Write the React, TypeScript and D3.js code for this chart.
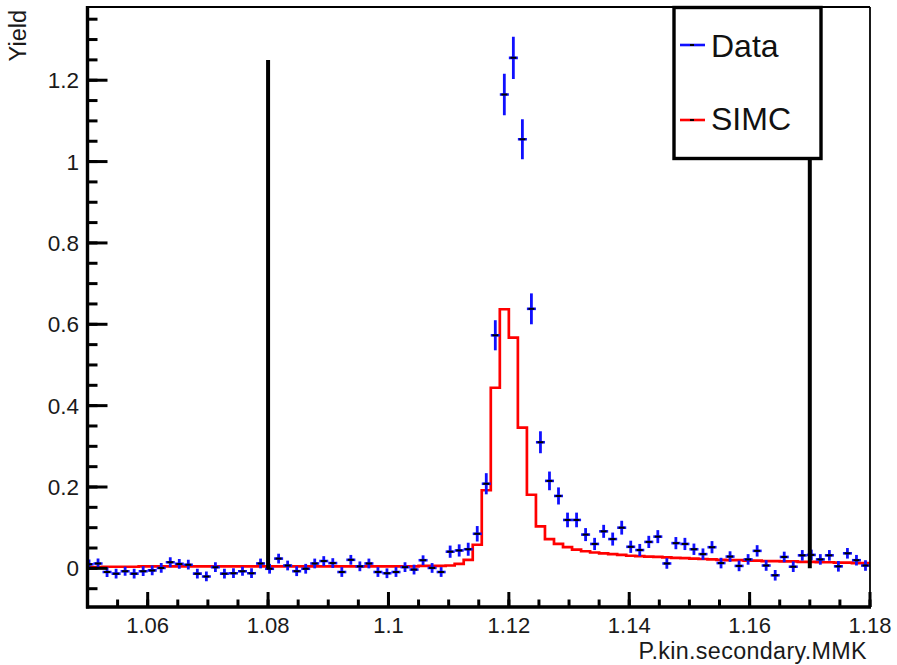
import React from "react";
import * as d3 from "d3";

// Histogram binning (bins of 0.0015 starting at 1.0; visible bins 33..119)
const BIN_WIDTH = 0.0015;
const FIRST_BIN_LOW = 1.0495;

const dataValues = [
  0.010, 0.012, -0.009, -0.013, -0.007, -0.013, -0.007, -0.005, 0.001, 0.015,
  0.011, 0.009, -0.013, -0.020, 0.003, -0.013, -0.012, -0.007, -0.012, 0.012,
  -0.001, 0.024, 0.007, -0.007, -0.001, 0.012, 0.018, 0.013, -0.009, 0.021,
  0.005, 0.012, -0.009, -0.012, -0.009, 0.003, -0.003, 0.020, 0.001, -0.009,
  0.041, 0.044, 0.047, 0.085, 0.208, 0.573, 1.165, 1.255, 1.055, 0.638,
  0.310, 0.215, 0.178, 0.119, 0.119, 0.083, 0.060, 0.091, 0.072, 0.100,
  0.053, 0.045, 0.065, 0.078, 0.012, 0.062, 0.060, 0.047, 0.035, 0.052,
  0.013, 0.029, 0.006, 0.022, 0.043, 0.007, -0.017, 0.028, 0.004, 0.032,
  0.033, 0.022, 0.032, 0.005, 0.037, 0.020, 0.007,
];

const dataErrors = [
  0.012, 0.012, 0.012, 0.012, 0.011, 0.012, 0.012, 0.012, 0.012, 0.012,
  0.012, 0.012, 0.012, 0.012, 0.012, 0.012, 0.012, 0.011, 0.012, 0.012,
  0.012, 0.012, 0.012, 0.012, 0.012, 0.012, 0.012, 0.012, 0.012, 0.012,
  0.012, 0.012, 0.012, 0.012, 0.012, 0.012, 0.012, 0.012, 0.012, 0.012,
  0.015, 0.015, 0.016, 0.019, 0.026, 0.037, 0.051, 0.052, 0.049, 0.038,
  0.027, 0.023, 0.021, 0.018, 0.018, 0.016, 0.015, 0.016, 0.016, 0.017,
  0.015, 0.015, 0.015, 0.016, 0.013, 0.015, 0.015, 0.014, 0.014, 0.015,
  0.013, 0.013, 0.013, 0.013, 0.014, 0.013, 0.013, 0.013, 0.013, 0.013,
  0.013, 0.013, 0.013, 0.013, 0.013, 0.013, 0.013,
];

const simcValues = [
  0.003, 0.003, 0.004, 0.004, 0.004, 0.004, 0.005, 0.005, 0.005, 0.005,
  0.005, 0.005, 0.005, 0.005, 0.005, 0.005, 0.005, 0.005, 0.005, 0.005,
  0.005, 0.005, 0.005, 0.005, 0.005, 0.005, 0.005, 0.005, 0.005, 0.005,
  0.005, 0.005, 0.005, 0.005, 0.005, 0.005, 0.005, 0.006, 0.006, 0.006,
  0.007, 0.011, 0.021, 0.058, 0.192, 0.444, 0.637, 0.567, 0.346, 0.181,
  0.103, 0.072, 0.060, 0.052, 0.046, 0.042, 0.039, 0.037, 0.035, 0.033,
  0.031, 0.030, 0.029, 0.028, 0.027, 0.026, 0.025, 0.024, 0.023, 0.022,
  0.021, 0.020, 0.020, 0.019, 0.019, 0.018, 0.018, 0.017, 0.017, 0.016,
  0.016, 0.015, 0.015, 0.014, 0.014, 0.013, 0.013,
];

const cutLines = [1.08, 1.17];
const cutLineTop = 1.25;

const xTicks = [1.06, 1.08, 1.1, 1.12, 1.14, 1.16, 1.18];
const xTickLabels = ["1.06", "1.08", "1.1", "1.12", "1.14", "1.16", "1.18"];
const yTicks = [0, 0.2, 0.4, 0.6, 0.8, 1.0, 1.2];
const yTickLabels = ["0", "0.2", "0.4", "0.6", "0.8", "1", "1.2"];

const xTitle = "P.kin.secondary.MMK";
const yTitle = "Yield";
const legendLabels = ["Data", "SIMC"];

const W = 897;
const H = 665;
const FONT = "'Liberation Sans', Arial, Helvetica, sans-serif";

export default function App() {
  const left = 87.5, right = 870, top = 7, bottom = 607;
  const x = d3.scaleLinear().domain([1.05, 1.18]).range([left, right]);
  const y = d3.scaleLinear().domain([-0.095, 1.38]).range([bottom, top]);

  const bins = dataValues.map((v, i) => {
    const lo = FIRST_BIN_LOW + i * BIN_WIDTH;
    return { lo, hi: lo + BIN_WIDTH, c: lo + BIN_WIDTH / 2, v, e: dataErrors[i] };
  });

  const histPts: [number, number][] = simcValues.map((v, i) => [FIRST_BIN_LOW + i * BIN_WIDTH, v]);
  histPts.push([FIRST_BIN_LOW + simcValues.length * BIN_WIDTH, simcValues[simcValues.length - 1]]);
  const histPath = d3
    .line<[number, number]>()
    .x((d) => x(d[0]))
    .y((d) => y(d[1]))
    .curve(d3.curveStepAfter)(histPts) as string;

  const xMinor = d3.range(0, 27).map((i) => 1.05 + i * 0.005);
  const yMinor = d3.range(-1, 28).map((i) => i * 0.05);

  const tickW = 3;
  const textFill = "#1a1a1a";

  return (
    <svg
      width={W}
      height={H}
      style={{ position: "absolute", left: 0, top: 0, background: "#fff" }}
      fontFamily={FONT}
    >
      <defs>
        <clipPath id="frame">
          <rect x={left} y={top} width={right - left} height={bottom - top} />
        </clipPath>
      </defs>
      <rect x={0} y={0} width={W} height={H} fill="#fff" />

      <g clipPath="url(#frame)">
        <path d={histPath} fill="none" stroke="#ff0000" strokeWidth={2.7} />
        {bins.map((b, i) => (
          <g key={i}>
            <line x1={x(b.lo)} x2={x(b.hi)} y1={y(b.v)} y2={y(b.v)} stroke="#1010ff" strokeWidth={2.6} />
            <line x1={x(b.c)} x2={x(b.c)} y1={y(b.v - b.e)} y2={y(b.v + b.e)} stroke="#1010ff" strokeWidth={2.8} />
            <line x1={x(b.c) - 3} x2={x(b.c) + 3} y1={y(b.v)} y2={y(b.v)} stroke="#000" strokeWidth={2} />
          </g>
        ))}
        {cutLines.map((c) => (
          <line key={c} x1={x(c)} x2={x(c)} y1={y(0)} y2={y(cutLineTop)} stroke="#000" strokeWidth={4} />
        ))}
      </g>

      {/* frame */}
      <line x1={left} x2={right} y1={top} y2={top} stroke="#000" strokeWidth={2.2} />
      <line x1={right} x2={right} y1={top} y2={bottom} stroke="#000" strokeWidth={1.8} />
      <line x1={left} x2={left} y1={top - 1} y2={bottom + 1.5} stroke="#000" strokeWidth={3.4} />
      <line x1={left - 1.5} x2={right + 1} y1={bottom} y2={bottom} stroke="#000" strokeWidth={3.4} />

      {/* y ticks */}
      {yMinor.map((v, i) => (
        <line key={"ym" + i} x1={left} x2={left + 10} y1={y(v)} y2={y(v)} stroke="#000" strokeWidth={tickW} />
      ))}
      {yTicks.map((v, i) => (
        <g key={"yt" + i}>
          <line x1={left} x2={left + 20} y1={y(v)} y2={y(v)} stroke="#000" strokeWidth={tickW} />
          <text x={79} y={y(v)} dy="0.36em" textAnchor="end" fontSize={22.5} fill={textFill}>
            {yTickLabels[i]}
          </text>
        </g>
      ))}

      {/* x ticks */}
      {xMinor.map((v, i) => (
        <line key={"xm" + i} x1={x(v)} x2={x(v)} y1={bottom} y2={bottom - 7.5} stroke="#000" strokeWidth={tickW} />
      ))}
      {xTicks.map((v, i) => (
        <g key={"xt" + i}>
          <line x1={x(v)} x2={x(v)} y1={bottom} y2={bottom - 15} stroke="#000" strokeWidth={tickW} />
          <text x={x(v)} y={633} textAnchor="middle" fontSize={22} fill={textFill}>
            {xTickLabels[i]}
          </text>
        </g>
      ))}

      {/* axis titles */}
      <text x={867} y={659} textAnchor="end" fontSize={23.3} fill={textFill} letterSpacing={0.35}>
        {xTitle}
      </text>
      <text transform="translate(26,10) rotate(-90)" textAnchor="end" fontSize={23.5} fill={textFill}>
        {yTitle}
      </text>

      {/* legend */}
      <rect x={674} y={7.5} width={147} height={151} fill="#fff" stroke="#000" strokeWidth={3.4} />
      <line x1={680} x2={705} y1={45} y2={45} stroke="#1010ff" strokeWidth={2.6} />
      <line x1={690} x2={694} y1={45} y2={45} stroke="#000" strokeWidth={2} />
      <text x={711} y={57} fontSize={32} fill="#111">
        {legendLabels[0]}
      </text>
      <line x1={680} x2={705} y1={120} y2={120} stroke="#ff0000" strokeWidth={2.6} />
      <line x1={690} x2={694} y1={120} y2={120} stroke="#000" strokeWidth={2} />
      <text x={711} y={130} fontSize={32} fill="#111">
        {legendLabels[1]}
      </text>
    </svg>
  );
}
